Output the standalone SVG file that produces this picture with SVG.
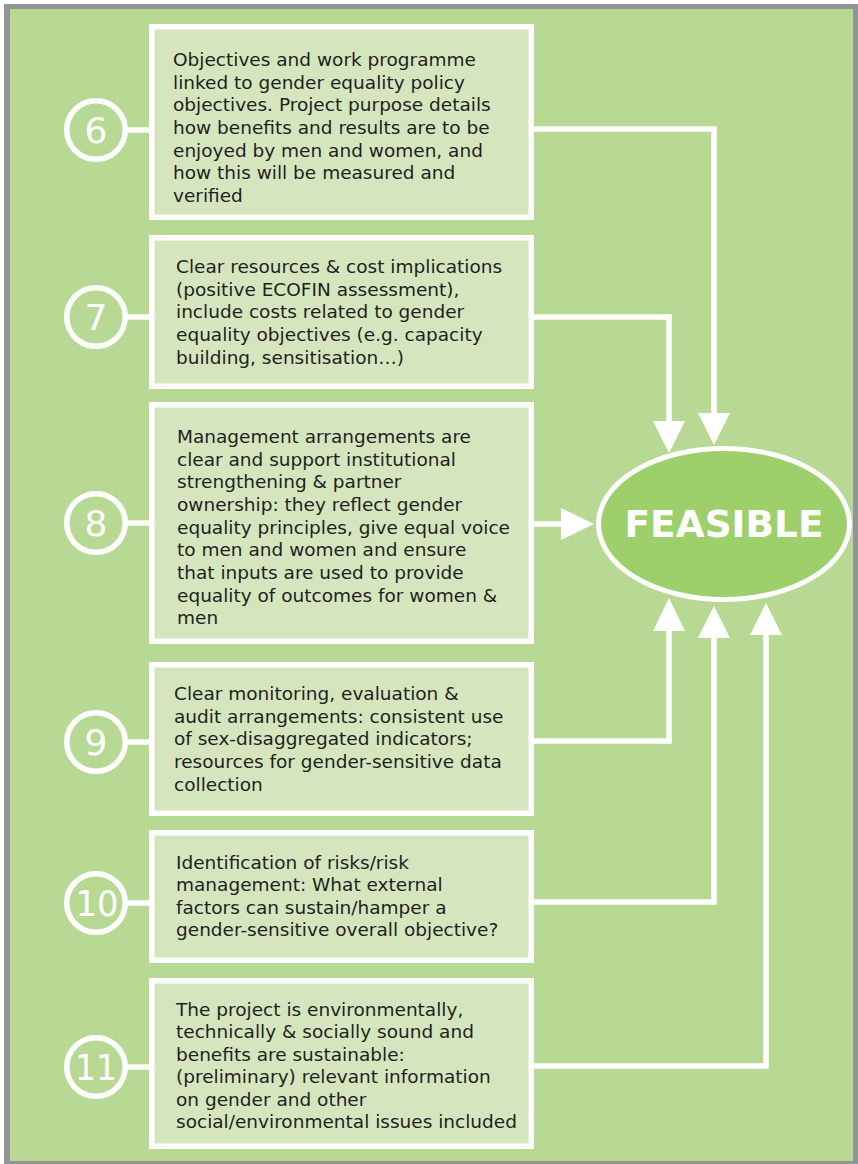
<svg xmlns="http://www.w3.org/2000/svg" width="858" height="1164" viewBox="0 0 858 1164">
<style>
.box{fill:#d5e6bf;stroke:#ffffff;stroke-width:5.5}
.circ{fill:none;stroke:#ffffff;stroke-width:5.5}
.lnk{stroke:#ffffff;stroke-width:5.5;fill:none}
.txt{font-family:"DejaVu Sans",Verdana,sans-serif;font-size:18.5px;fill:#231f20}
.num{font-family:"DejaVu Sans",Verdana,sans-serif;font-size:36px;fill:#ffffff;text-anchor:middle}
.con{stroke:#ffffff;stroke-width:5.5;fill:none;stroke-linejoin:miter}
.head{fill:#ffffff}
</style>
<rect x="4" y="4" width="854" height="1160" fill="#929497"/>
<rect x="10" y="9" width="843" height="1152" fill="#b8d993"/>
<g id="connectors">
<path class="con" d="M534,129 H714 V415"/>
<polygon class="head" points="698,413 730,413 714,445"/>
<path class="con" d="M534,317 H669 V423"/>
<polygon class="head" points="653,421 685,421 669,453"/>
<path class="con" d="M534,524 H563"/>
<polygon class="head" points="561,508 561,540 594,524"/>
<path class="con" d="M534,741 H669 V629"/>
<polygon class="head" points="653,631 685,631 669,598"/>
<path class="con" d="M534,902 H714 V636"/>
<polygon class="head" points="698,638 730,638 714,606"/>
<path class="con" d="M534,1066 H766 V633"/>
<polygon class="head" points="750,635 782,635 766,603"/>
</g>
<g id="node6">
<line class="lnk" x1="124" y1="130" x2="152" y2="130"/>
<circle class="circ" cx="96" cy="130" r="29.25"/>
<text class="num" x="96" y="143">6</text>
<rect class="box" x="151.75" y="26.75" width="379.5" height="190.5"/>
<text class="txt" x="173" y="66"><tspan x="173">Objectives and work programme</tspan><tspan x="173" dy="22.67">linked to gender equality policy</tspan><tspan x="173" dy="22.67">objectives. Project purpose details</tspan><tspan x="173" dy="22.67">how benefits and results are to be</tspan><tspan x="173" dy="22.67">enjoyed by men and women, and</tspan><tspan x="173" dy="22.67">how this will be measured and</tspan><tspan x="173" dy="22.67">verified</tspan></text>
</g>
<g id="node7">
<line class="lnk" x1="124" y1="317" x2="152" y2="317"/>
<circle class="circ" cx="96" cy="317" r="29.25"/>
<text class="num" x="96" y="330">7</text>
<rect class="box" x="151.75" y="237.75" width="379.5" height="148.5"/>
<text class="txt" x="176" y="273"><tspan x="176">Clear resources &amp; cost implications</tspan><tspan x="176" dy="22.7">(positive ECOFIN assessment),</tspan><tspan x="176" dy="22.7">include costs related to gender</tspan><tspan x="176" dy="22.7">equality objectives (e.g. capacity</tspan><tspan x="176" dy="22.7">building, sensitisation…)</tspan></text>
</g>
<g id="node8">
<line class="lnk" x1="124" y1="523" x2="152" y2="523"/>
<circle class="circ" cx="96" cy="523" r="29.25"/>
<text class="num" x="96" y="536">8</text>
<rect class="box" x="151.75" y="404.75" width="379.5" height="236.5"/>
<text class="txt" x="177" y="443"><tspan x="177">Management arrangements are</tspan><tspan x="177" dy="22.67">clear and support institutional</tspan><tspan x="177" dy="22.67">strengthening &amp; partner</tspan><tspan x="177" dy="22.67">ownership: they reflect gender</tspan><tspan x="177" dy="22.67">equality principles, give equal voice</tspan><tspan x="177" dy="22.67">to men and women and ensure</tspan><tspan x="177" dy="22.67">that inputs are used to provide</tspan><tspan x="177" dy="22.67">equality of outcomes for women &amp;</tspan><tspan x="177" dy="22.67">men</tspan></text>
</g>
<g id="node9">
<line class="lnk" x1="124" y1="742" x2="152" y2="742"/>
<circle class="circ" cx="96" cy="742" r="29.25"/>
<text class="num" x="96" y="755">9</text>
<rect class="box" x="151.75" y="664.75" width="379.5" height="148.5"/>
<text class="txt" x="174" y="700"><tspan x="174">Clear monitoring, evaluation &amp;</tspan><tspan x="174" dy="22.67">audit arrangements: consistent use</tspan><tspan x="174" dy="22.67">of sex-disaggregated indicators;</tspan><tspan x="174" dy="22.67">resources for gender-sensitive data</tspan><tspan x="174" dy="22.67">collection</tspan></text>
</g>
<g id="node10">
<line class="lnk" x1="124" y1="903" x2="152" y2="903"/>
<circle class="circ" cx="96" cy="903" r="29.25"/>
<text class="num" x="97" y="916" textLength="43" lengthAdjust="spacingAndGlyphs">10</text>
<rect class="box" x="151.75" y="832.75" width="379.5" height="127.5"/>
<text class="txt" x="176" y="869"><tspan x="176">Identification of risks/risk</tspan><tspan x="176" dy="22.4">management: What external</tspan><tspan x="176" dy="22.4">factors can sustain/hamper a</tspan><tspan x="176" dy="22.4">gender-sensitive overall objective?</tspan></text>
</g>
<g id="node11">
<line class="lnk" x1="124" y1="1067" x2="152" y2="1067"/>
<circle class="circ" cx="96" cy="1067" r="29.25"/>
<text class="num" x="96" y="1080" textLength="42" lengthAdjust="spacingAndGlyphs">11</text>
<rect class="box" x="151.75" y="980.75" width="379.5" height="165.5"/>
<text class="txt" x="176" y="1016"><tspan x="176">The project is environmentally,</tspan><tspan x="176" dy="22.4">technically &amp; socially sound and</tspan><tspan x="176" dy="22.4">benefits are sustainable:</tspan><tspan x="176" dy="22.4">(preliminary) relevant information</tspan><tspan x="176" dy="22.4">on gender and other</tspan><tspan x="176" dy="22.4">social/environmental issues included</tspan></text>
</g>
<g id="feasible">
<ellipse cx="724" cy="524" rx="125.5" ry="75.5" fill="#9dcf6a" stroke="#ffffff" stroke-width="5"/>
<text x="724" y="537" text-anchor="middle" textLength="199" lengthAdjust="spacingAndGlyphs" style="font-family:'DejaVu Sans',Verdana,sans-serif;font-size:37px;font-weight:bold;fill:#ffffff">FEASIBLE</text>
</g>
</svg>
